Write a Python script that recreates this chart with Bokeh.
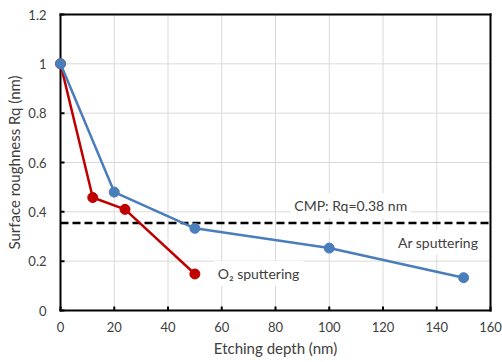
from bokeh.plotting import figure
from bokeh.models import Label, FixedTicker, Range1d
from bokeh.embed import file_html
from bokeh.resources import INLINE

# data
ar_depth = [0, 20, 50, 100, 150]
ar_rq = [1.0, 0.48, 0.333, 0.253, 0.133]
o2_depth = [0, 12, 24, 50]
o2_rq = [1.0, 0.458, 0.41, 0.148]
cmp_level = 0.355
x_ticks = [0, 20, 40, 60, 80, 100, 120, 140, 160]
y_ticks = [0, 0.2, 0.4, 0.6, 0.8, 1.0, 1.2]
y_tick_labels = ["0", "0.2", "0.4", "0.6", "0.8", "1", "1.2"]

FONT = "Lato"
TXT = "#404040"

# small padding around the data box so end markers are not clipped
PAD = 6
W, H = 502, 362
frame_w = 442
frame_h = 308
xmin, xmax = x_ticks[0], x_ticks[-1]
ymin, ymax = y_ticks[0], y_ticks[-1]
xu = (xmax - xmin) / (frame_w - 2 * PAD)   # data units per px
yu = (ymax - ymin) / (frame_h - 2 * PAD)

p = figure(width=W, height=H, output_backend="svg", toolbar_location=None,
           x_range=Range1d(xmin - PAD * xu, xmax + PAD * xu),
           y_range=Range1d(ymin - PAD * yu, ymax + PAD * yu),
           min_border_left=54, min_border_right=6, min_border_top=8, min_border_bottom=46)
p.background_fill_color = "white"
p.border_fill_color = "white"
p.outline_line_color = None

for ax in (p.xaxis[0], p.yaxis[0]):
    ax.axis_line_color = None
    ax.major_tick_line_color = None
    ax.minor_tick_line_color = None
    ax.major_tick_in = 0
    ax.major_tick_out = 0
    ax.minor_tick_in = 0
    ax.minor_tick_out = 0
    ax.major_label_text_font = FONT
    ax.major_label_text_font_size = "13px"
    ax.major_label_text_color = TXT
    ax.axis_label_text_font = FONT
    ax.axis_label_text_font_size = "15px"
    ax.axis_label_text_font_style = "normal"
    ax.axis_label_text_color = TXT

p.xaxis.ticker = FixedTicker(ticks=x_ticks)
p.yaxis.ticker = FixedTicker(ticks=y_ticks)
p.yaxis.major_label_overrides = {t: l for t, l in zip(y_ticks, y_tick_labels)}
p.xaxis.major_label_standoff = 5
p.yaxis.major_label_standoff = 8
p.xaxis.axis_label = "Etching depth (nm)"
p.yaxis.axis_label = "Surface roughness Rq (nm)"
p.xaxis.axis_label_standoff = 4
p.yaxis.axis_label_standoff = 2
p.grid.visible = False

# gridlines bounded to the data box
grid = "#d9d9d9"
p.segment(x0=x_ticks, y0=ymin, x1=x_ticks, y1=ymax, line_color=grid, line_width=1)
p.segment(x0=xmin, y0=y_ticks, x1=xmax, y1=y_ticks, line_color=grid, line_width=1)

# inside tick marks
TICK = 4
p.segment(x0=x_ticks, y0=ymin, x1=x_ticks, y1=ymin + TICK * yu, line_color="black", line_width=2)
p.segment(x0=xmin, y0=y_ticks, x1=xmin + TICK * xu, y1=y_ticks, line_color="black", line_width=2)

# box
p.segment(x0=[xmin, xmin, xmin, xmax], y0=[ymin, ymax, ymin, ymin],
          x1=[xmax, xmax, xmin, xmax], y1=[ymin, ymax, ymax, ymax],
          line_color="black", line_width=2, line_cap="square")

# CMP level
p.segment(x0=xmin, y0=cmp_level, x1=xmax, y1=cmp_level, line_color="black",
          line_width=2.5, line_dash="8 4")

for txt, x, y in [("CMP: Rq=0.38 nm", 108, 0.425), ("Ar sputtering", 140.5, 0.276)]:
    p.add_layout(Label(x=x, y=y, text=txt, text_align="center", text_baseline="middle",
                       text_font=FONT, text_font_size="14px", text_color=TXT,
                       background_fill_color="white", padding=4))
p.add_layout(Label(x=57, y=0.15, text="O\u2082 sputtering", text_align="left",
                   text_baseline="middle", text_font=FONT, text_font_size="14px",
                   text_color=TXT, background_fill_color="white", padding=4))

blue = "#4a7ebb"
red = "#c00000"
p.line(o2_depth, o2_rq, line_color=red, line_width=2.5)
p.scatter(o2_depth, o2_rq, size=10, fill_color=red, line_color=red)
p.line(ar_depth, ar_rq, line_color=blue, line_width=2.5)
p.scatter(ar_depth, ar_rq, size=10, fill_color=blue, line_color=blue)

open("out.html", "w").write(file_html(p, INLINE))
